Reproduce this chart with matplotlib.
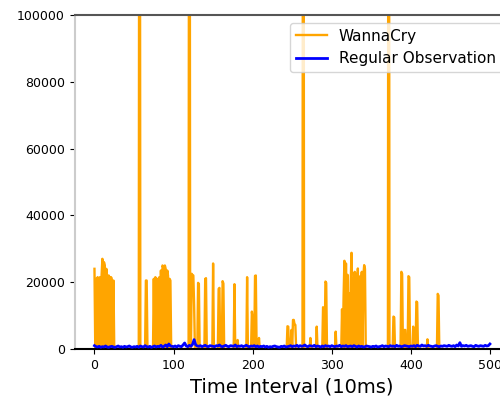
import numpy as np
import matplotlib
matplotlib.use("Agg")
import matplotlib.pyplot as plt

# WannaCry series: indices (10ms intervals) with non-zero counts; zero elsewhere
wanna_idx = [0, 1, 2, 3, 4, 5, 6, 7, 8, 9, 10, 11, 12, 13, 14, 15, 16, 17, 18, 19, 20, 21, 22, 23, 24, 25,
             57, 65, 66,
             75, 76, 77, 78, 79, 80, 81, 82, 83, 84, 85, 86, 87, 88, 89, 90, 91, 92, 93, 94, 95, 96, 97,
             120, 123, 124, 125, 126, 131, 132, 140, 141, 150, 157, 158, 162, 163, 177, 181,
             193, 199, 200, 203, 204, 208,
             244, 245, 249, 251, 252, 253, 254, 264, 273, 281, 289, 290, 292, 293, 305,
             313, 314, 315, 316, 317, 318, 319, 320, 321, 322, 323, 324, 325, 326, 327, 328,
             329, 330, 331, 332, 333, 334, 335, 336, 337, 338, 339, 340, 341, 342, 343,
             372, 378, 379, 388, 389, 392, 393, 397, 398, 403, 407, 408, 421, 434, 435]
wanna_val = [24000, 200, 21000, 300, 21500, 200, 21000, 21500, 300, 22000, 27000, 500, 26000,
             25000, 300, 24000, 21500, 400, 22000, 21500, 300, 21500, 20500, 300, 20500, 300,
             300000, 20500, 20500,
             21000, 300, 21500, 300, 20500, 21000, 300, 21500, 300, 23500, 400, 25000,
             24500, 300, 25000, 24000, 300, 23500, 22000, 300, 21000, 20500, 300,
             300000, 22500, 22000, 22000, 13000, 19800, 19500, 21000, 21200, 25600, 18000, 18300,
             20300, 19600, 19400, 2700,
             21500, 11200, 9300, 21900, 22000, 3300,
             6800, 6700, 5700, 8700, 8700, 7300, 7200, 300000, 3300, 6700, 12500, 12000, 20200,
             19800, 5200,
             11900, 300, 16000, 26400, 500, 25600, 300, 22200, 300, 16700, 500, 20000,
             28800, 500, 21200, 300,
             23100, 400, 22500, 300, 24100, 300, 21700, 300, 20000, 23100, 300, 22000,
             25100, 24000, 300,
             300000, 9700, 9500, 23100, 22500, 5700, 5700, 21800, 21500, 6700, 14200, 14000,
             2900, 16500, 16000]
wanna_len = 441

# Regular observation, every 2nd interval, in hundreds of counts
regular_hundreds = [
    10, 7, 6, 8, 5, 7, 6, 9, 6, 5, 7, 8, 6, 5, 7, 9, 6, 7, 5, 8, 6, 7, 9, 6, 5,
    7, 6, 8, 5, 9, 7, 6, 10, 7, 6, 8, 5, 7, 9, 6, 8, 7, 11, 6, 8, 12, 7, 15, 9, 8,
    7, 9, 6, 10, 8, 7, 12, 18, 9, 7, 11, 8, 14, 28, 12, 9, 8, 10, 7, 9, 11, 8, 7, 10, 9,
    8, 7, 10, 9, 12, 8, 7, 9, 11, 8, 7, 10, 9, 8, 12, 7, 9, 8, 10, 7, 9, 11, 8, 7, 9,
    8, 10, 7, 9, 6, 8, 7, 9, 6, 8, 5, 7, 6, 8, 9, 7, 6, 5, 8, 7, 9, 6, 7, 8, 10,
    7, 9, 8, 11, 7, 10, 8, 9, 12, 8, 7, 10, 9, 8, 11, 7, 9, 8, 6, 9, 7, 10, 8, 9, 7,
    10, 8, 7, 9, 8, 11, 7, 9, 8, 10, 7, 8, 9, 7, 10, 8, 6, 9, 7, 8, 6, 7, 9, 8, 7,
    6, 8, 7, 9, 6, 7, 8, 10, 7, 9, 8, 7, 10, 8, 9, 7, 11, 8, 9, 7, 8, 10, 9, 8, 7,
    9, 8, 10, 7, 11, 9, 8, 12, 9, 10, 8, 11, 9, 8, 7, 9, 10, 8, 7, 9, 8, 10, 9, 8, 11,
    9, 8, 10, 7, 12, 9, 19, 8, 10, 9, 11, 8, 9, 10, 8, 7, 11, 9, 8, 10, 9, 8, 11, 9, 10,
    15]
regular_step = 2

labels = ["WannaCry", "Regular Observation"]
xlabel = "Time Interval (10ms)"

wanna = np.zeros(wanna_len)
wanna[np.array(wanna_idx)] = wanna_val
wanna_x = np.arange(wanna_len)
reg_y = np.array(regular_hundreds) * 100.0
reg_x = np.arange(len(reg_y)) * regular_step

fig = plt.figure(figsize=(5.0, 4.03), dpi=100)
ax = fig.add_axes([0.1494, 0.134, 0.870, 0.829])
ax.plot(wanna_x, wanna, color="orange", lw=1.7, label=labels[0], zorder=2)
ax.plot(reg_x, reg_y, color="blue", lw=2, label=labels[1], zorder=3)
ax.set_xlim(-25, 525)
ax.set_ylim(0, 100000)
ax.set_yticks([0, 20000, 40000, 60000, 80000, 100000])
ax.set_xticks([0, 100, 200, 300, 400, 500])
ax.tick_params(labelsize=9)
ax.set_xlabel(xlabel, fontsize=14)
ax.spines["top"].set_color("#555555")
ax.spines["left"].set_color("#cccccc")
ax.spines["bottom"].set_color("black")
ax.spines["bottom"].set_linewidth(1.5)
ax.spines["left"].set_linewidth(1.5)
ax.spines["top"].set_linewidth(1.5)
ax.legend(loc="upper right", fontsize=11)
fig.savefig("out.png", dpi=100)
